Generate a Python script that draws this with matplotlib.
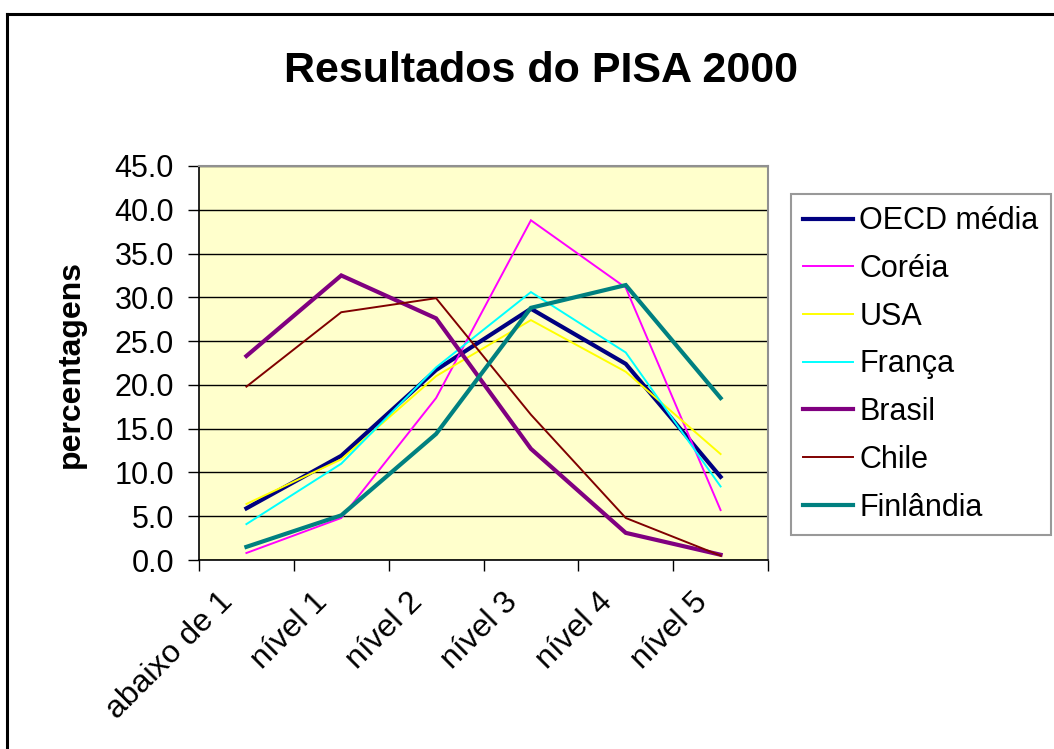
import matplotlib
matplotlib.use("Agg")
import matplotlib.pyplot as plt
from matplotlib.lines import Line2D
from matplotlib.ticker import FixedLocator, FormatStrFormatter
import matplotlib.transforms as mtransforms

plt.rcParams['font.family'] = ['Liberation Sans', 'DejaVu Sans']

categories = ["abaixo de 1", "nível 1", "nível 2", "nível 3", "nível 4", "nível 5"]
oecd = [5.9, 11.9, 21.7, 28.7, 22.4, 9.5]
coreia = [0.8, 4.8, 18.5, 38.8, 31.1, 5.7]
usa = [6.4, 11.5, 21.0, 27.4, 21.5, 12.1]
franca = [4.1, 11.0, 22.0, 30.6, 23.7, 8.4]
brasil = [23.3, 32.5, 27.6, 12.7, 3.1, 0.6]
chile = [19.8, 28.3, 29.9, 16.6, 4.8, 0.5]
finlandia = [1.5, 5.1, 14.4, 28.8, 31.4, 18.5]

series = [
    ("OECD média", oecd, "#000080", 3.0),
    ("Coréia", coreia, "#FF00FF", 1.4),
    ("USA", usa, "#FFFF00", 1.4),
    ("França", franca, "#00FFFF", 1.4),
    ("Brasil", brasil, "#800080", 3.0),
    ("Chile", chile, "#800000", 1.4),
    ("Finlândia", finlandia, "#008080", 3.0),
]

W, H = 1054, 749
fig = plt.figure(figsize=(W / 100, H / 100), dpi=100)
fig.patch.set_facecolor("white")

ax = fig.add_axes([199 / W, 1 - 560 / H, (768 - 199) / W, (560 - 166) / H])
ax.set_facecolor("#FFFFCC")

x = list(range(len(categories)))
for name, vals, col, lw in series:
    ax.plot(x, vals, color=col, lw=lw, label=name, solid_joinstyle="miter")

ax.set_xlim(-0.5, len(categories) - 0.5)
ax.set_ylim(0, 45)
ax.set_yticks([i * 5 for i in range(10)])
ax.yaxis.set_major_formatter(FormatStrFormatter("%.1f"))
ax.grid(axis="y", color="black", lw=1.0)
ax.set_axisbelow(True)

ax.set_xticks(x)
ax.set_xticklabels(categories, rotation=45, ha="right", va="center",
                   rotation_mode="anchor", fontsize=23)
ax.xaxis.set_minor_locator(FixedLocator([i - 0.5 for i in range(len(categories) + 1)]))
ax.tick_params(axis="x", which="major", length=0, pad=27)
ax.tick_params(axis="x", which="minor", length=8, width=1, direction="out", color="black")
ax.tick_params(axis="y", which="major", length=8, width=1, direction="out", labelsize=22, pad=10)
off = mtransforms.ScaledTranslation(-18 / 100, 0, fig.dpi_scale_trans)
for lab in ax.get_xticklabels():
    lab.set_transform(lab.get_transform() + off)

for s in ["left", "bottom"]:
    ax.spines[s].set_color("black")
    ax.spines[s].set_linewidth(1.2)
for s in ["top", "right"]:
    ax.spines[s].set_color("#909090")
    ax.spines[s].set_linewidth(1.5)

fig.text(541 / W, 1 - 82 / H, "Resultados do PISA 2000", ha="center", va="baseline",
         fontsize=31, fontweight="bold")
fig.text(71 / W, 1 - 364 / H, "percentagens", ha="center", va="center",
         rotation=90, fontsize=23, fontweight="bold")

leg = ax.legend(loc="upper left", bbox_to_anchor=(791 / W, 1 - 194 / H),
                bbox_transform=fig.transFigure, borderaxespad=0, fontsize=22,
                handlelength=1.63, handletextpad=0.2, labelspacing=0.58,
                borderpad=0.4, frameon=True, fancybox=False)
leg.get_frame().set_edgecolor("#808080")
leg.get_frame().set_linewidth(1.5)

# outer chart border (top and left edges visible)
fig.add_artist(Line2D([7 / W, 7 / W], [0, 1 - 14 / H], transform=fig.transFigure,
                      color="black", lw=2.2))
fig.add_artist(Line2D([7 / W, 1.0], [1 - 14 / H, 1 - 14 / H], transform=fig.transFigure,
                      color="black", lw=2.2))

fig.savefig("out.png", dpi=100)
